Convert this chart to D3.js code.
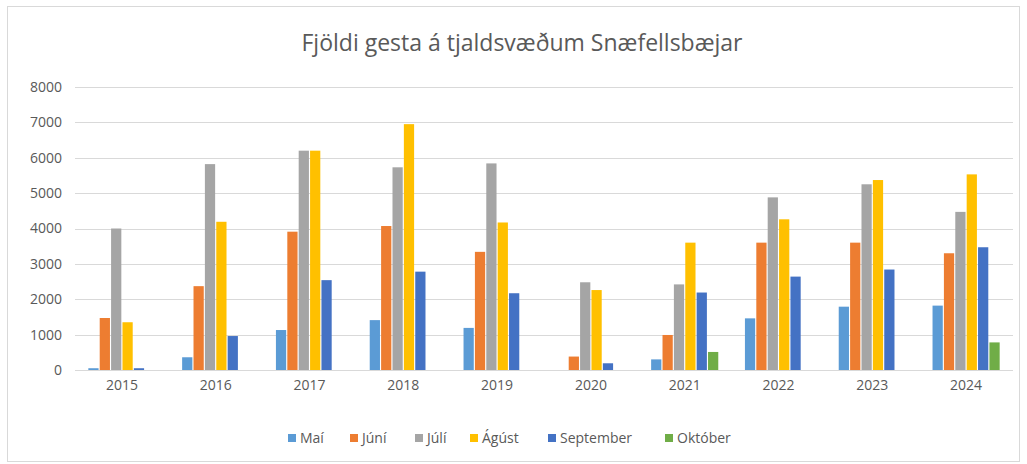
<!DOCTYPE html>
<html>
<head>
<meta charset="utf-8">
<script src="https://cdn.jsdelivr.net/npm/d3@7"></script>
<style>
  body { margin: 0; background: #fff; }
  text { font-family: "Open Sans", sans-serif; fill: #595959; }
</style>
</head>
<body>
<div id="chart"></div>
<script>
var years = ["2015", "2016", "2017", "2018", "2019", "2020", "2021", "2022", "2023", "2024"];
var months = ["Maí", "Júní", "Júlí", "Ágúst", "September", "Október"];
var colors = ["#5b9bd5", "#ed7d31", "#a5a5a5", "#ffc000", "#4472c4", "#70ad47"];

var mai       = [50, 360, 1130, 1410, 1190, 0, 300, 1460, 1790, 1820];
var juni      = [1470, 2370, 3910, 4070, 3340, 380, 990, 3600, 3600, 3300];
var juli      = [4000, 5820, 6200, 5730, 5840, 2480, 2420, 4880, 5250, 4470];
var agust     = [1350, 4190, 6200, 6950, 4170, 2260, 3600, 4260, 5370, 5530];
var september = [50, 960, 2540, 2780, 2170, 190, 2190, 2640, 2840, 3470];
var oktober   = [0, 0, 0, 0, 0, 0, 510, 0, 0, 780];
var series = [mai, juni, juli, agust, september, oktober];

var yTicks = [0, 1000, 2000, 3000, 4000, 5000, 6000, 7000, 8000];

var svgWidth = 1027;
var svgHeight = 464;

var margin = { top: 87, bottom: 94, left: 75, right: 14 };
var width = svgWidth - margin.left - margin.right;
var height = svgHeight - margin.top - margin.bottom;

var svg = d3.select("#chart")
    .append("svg")
    .attr("width", svgWidth)
    .attr("height", svgHeight);

// frame
svg.append("rect")
    .attr("x", 7.5)
    .attr("y", 6.5)
    .attr("width", 1012)
    .attr("height", 455)
    .attr("fill", "none")
    .attr("stroke", "#d9d9d9");

svg.append("text")
    .attr("x", 522)
    .attr("y", 51)
    .attr("text-anchor", "middle")
    .attr("font-size", "23px")
    .text("Fjöldi gesta á tjaldsvæðum Snæfellsbæjar");

var chartGroup = svg.append("g")
    .attr("transform", `translate(${margin.left}, ${margin.top})`);

var x0 = d3.scaleBand()
    .domain(years)
    .range([0, width])
    .paddingInner(0.26)
    .paddingOuter(0.13);

var x1 = d3.scaleBand()
    .domain(d3.range(months.length))
    .range([0, x0.bandwidth()])
    .padding(0.1);

var yScale = d3.scaleLinear()
    .domain([0, 8000])
    .range([height, 0]);

// gridlines
chartGroup.append("g")
    .selectAll("line")
    .data(yTicks)
    .enter()
    .append("line")
    .attr("x1", 0)
    .attr("x2", width)
    .attr("y1", d => Math.round(yScale(d)) + 0.5)
    .attr("y2", d => Math.round(yScale(d)) + 0.5)
    .attr("stroke", "#d9d9d9")
    .attr("stroke-width", 1);

var yAxis = d3.axisLeft(yScale).tickValues(yTicks).tickFormat(d3.format("d")).tickSize(0).tickPadding(13);
chartGroup.append("g")
    .call(yAxis)
    .call(g => g.select(".domain").remove())
    .selectAll("text")
    .attr("font-size", "14px")
    .attr("font-family", "Open Sans, sans-serif")
    .attr("fill", "#595959");

var xAxis = d3.axisBottom(x0).tickSize(0).tickPadding(10);
chartGroup.append("g")
    .attr("transform", `translate(0, ${height})`)
    .call(xAxis)
    .call(g => g.select(".domain").remove())
    .selectAll("text")
    .attr("font-size", "14px")
    .attr("font-family", "Open Sans, sans-serif")
    .attr("fill", "#595959");

var groups = chartGroup.selectAll(".year")
    .data(years)
    .enter()
    .append("g")
    .attr("class", "year")
    .attr("transform", d => `translate(${x0(d)}, 0)`);

groups.selectAll("rect")
    .data((d, i) => series.map((s, j) => ({ m: j, v: s[i] })))
    .enter()
    .append("rect")
    .attr("x", d => x1(d.m))
    .attr("y", d => yScale(d.v))
    .attr("width", x1.bandwidth())
    .attr("height", d => height - yScale(d.v))
    .attr("fill", d => colors[d.m]);

// legend
var legendX = [288, 350, 415, 470, 548, 665];
var legend = svg.append("g")
    .selectAll("g")
    .data(months)
    .enter()
    .append("g")
    .attr("transform", (d, i) => `translate(${legendX[i]}, 438)`);

legend.append("rect")
    .attr("x", 0)
    .attr("y", -4)
    .attr("width", 8)
    .attr("height", 8)
    .attr("fill", (d, i) => colors[i]);

legend.append("text")
    .attr("x", 12)
    .attr("y", 5)
    .attr("font-size", "14px")
    .text(d => d);
</script>
</body>
</html>
